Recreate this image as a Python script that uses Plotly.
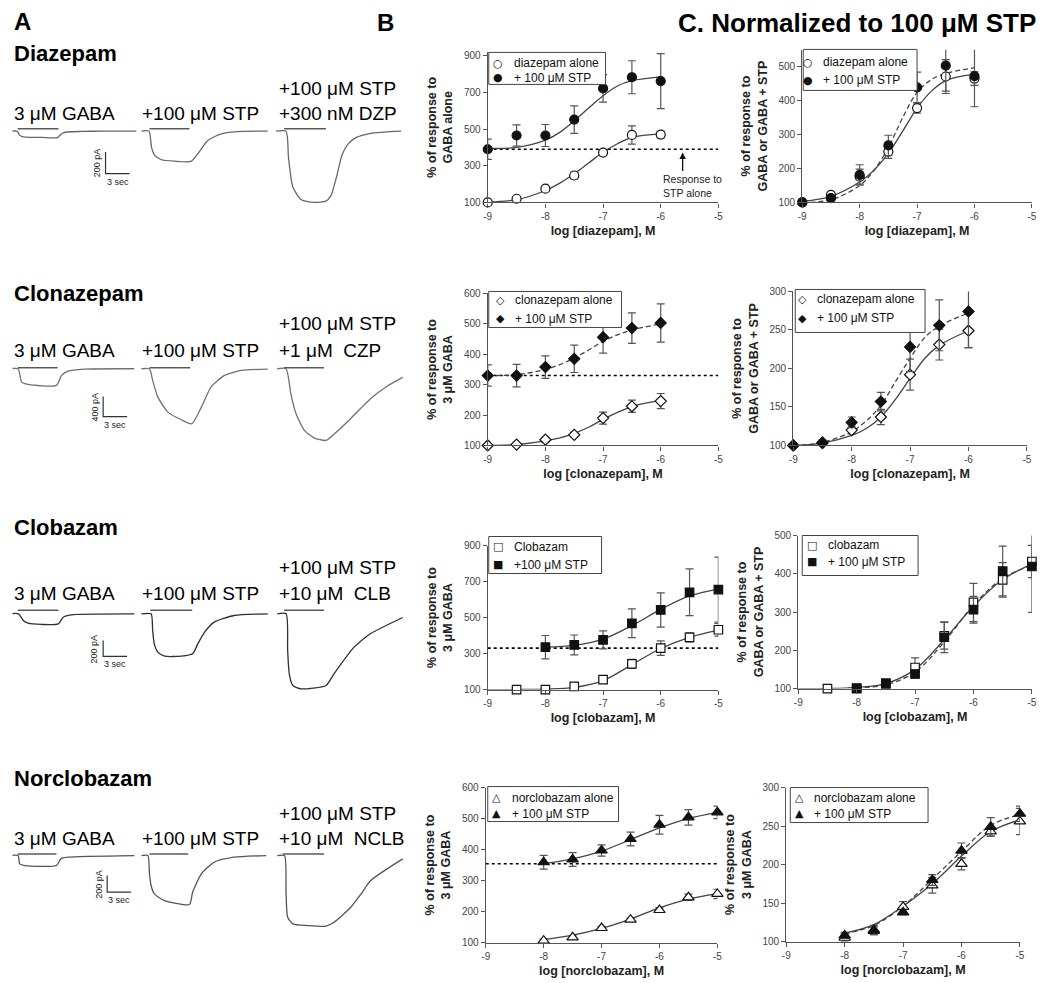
import plotly.graph_objects as go

# figure size; positions below are given in window pixels of the reference and
# mapped to the figure through a small linear correction measured on the output
W, H = 1050, 983
AX, KX = 10.5, 0.993
AY, KY = 13.6, 0.9876
FONT = "Liberation Sans, Arial, sans-serif"
SYMFONT = "DejaVu Sans, sans-serif"

# ---------------- A: current traces (time in s, current in pA) ----------------
# diazepam row
dzp_gaba_t = [0.4, 1.25, 1.45, 1.6, 1.9, 2.4, 4.4, 6.4, 6.6, 7.0, 7.6, 9.4, 11.9, 16.25]
dzp_gaba_pA = [0, 0, -10, -35, -48, -55, -58, -60, -45, -20, -8, -3, 0, 0]
dzp_stp_t = [16.9, 17.85, 18.15, 18.55, 19.4, 21.0, 23.1, 23.95, 25.2, 26.9, 29.4, 32.7]
dzp_stp_pA = [0, 0, -148, -225, -265, -278, -280, -210, -86, -25, -3, 0]
dzp_combo_t = [33.75, 35.0, 35.3, 35.85, 36.9, 38.5, 40.0, 40.6, 41.4, 42.0, 42.75, 43.75, 45.6, 49.4]
dzp_combo_pA = [0, 0, -240, -518, -635, -660, -648, -600, -400, -220, -120, -60, -20, 0]
dzp_bars = [(1.4, 6.5), (17.9, 22.9), (34.75, 40.0)]

# clonazepam row
czp_gaba_t = [0.4, 1.45, 1.9, 2.7, 6.25, 6.9, 7.7, 9.75, 16.0]
czp_gaba_pA = [0, 0, -267, -313, -333, -133, -47, -7, 0]
czp_stp_t = [16.9, 17.9, 18.3, 18.95, 20.2, 21.9, 23.2, 24.4, 25.6, 27.3, 29.4, 32.7]
czp_stp_pA = [0, 0, -233, -567, -867, -1020, -1100, -767, -367, -133, -33, -7]
czp_combo_t = [33.9, 35.0, 35.6, 36.25, 37.3, 38.5, 40.0, 41.25, 43.1, 45.6, 47.6, 49.6]
czp_combo_pA = [0, 0, -500, -900, -1233, -1380, -1433, -1273, -993, -593, -353, -173]
czp_bars = [(1.4, 6.4), (17.9, 23.0), (34.75, 39.75)]

# clobazam row
clb_gaba_t = [0.4, 1.5, 2.1, 2.7, 4.4, 6.5, 7.1, 8.1, 16.0]
clb_gaba_pA = [0, 0, -83, -117, -133, -125, -42, -12, 0]
clb_stp_t = [16.9, 18.1, 18.3, 18.5, 18.95, 19.8, 21.9, 23.3, 23.95, 24.8, 26.0, 28.5, 32.7]
clb_stp_pA = [0, 0, -208, -375, -479, -529, -529, -500, -375, -229, -104, -21, 0]
clb_combo_t = [33.9, 35.0, 35.2, 35.4, 35.85, 36.9, 40.0, 41.0, 43.5, 44.2, 45.6, 49.6]
clb_combo_pA = [0, 0, -458, -750, -896, -938, -896, -750, -417, -354, -246, -46]
clb_bars = [(1.4, 6.5), (18.0, 23.25), (34.75, 39.75)]

# norclobazam row
nclb_gaba_t = [0.4, 1.45, 1.65, 2.3, 6.25, 6.8, 7.7, 16.0]
nclb_gaba_pA = [0, 0, -100, -120, -120, -40, -20, 0]
nclb_stp_t = [16.9, 17.7, 17.9, 18.1, 18.5, 19.8, 22.9, 23.3, 24.4, 26.0, 28.5, 32.5]
nclb_stp_pA = [0, 0, -220, -361, -461, -542, -590, -442, -220, -80, -20, 0]
nclb_combo_t = [33.9, 34.8, 35.0, 35.2, 35.85, 37.7, 40.0, 41.0, 43.1, 44.4, 45.6, 49.6]
nclb_combo_pA = [0, 0, -461, -743, -823, -843, -851, -803, -623, -461, -301, -40]
nclb_bars = [(1.4, 6.25), (17.9, 22.75), (34.6, 39.75)]

# scale bars: (x start s, top pA, pA size)
dzp_scale = (12.4, -194, 200)
czp_scale = (12.1, -555, 400)
clb_scale = (12.1, -333, 200)
nclb_scale = (12.6, -241, 200)

# ---------------- B / C: concentration-response ----------------
dzp_x = [-9, -8.5, -8, -7.5, -7, -6.5, -6]
dzp_alone = [100, 120, 175, 247, 372, 468, 470]
dzp_alone_err = [0, 8, 12, 18, 12, 50, 18]
dzp_stp = [390, 465, 465, 552, 722, 783, 762]
dzp_stp_err = [55, 58, 60, 75, 75, 90, 150]
dzp_stp_only = 390
dzp_fit_x = [-9, -8.5, -8, -7.75, -7.5, -7.25, -7, -6.75, -6.5, -6]
dzp_fit_alone = [102, 115, 165, 205, 256, 315, 374, 420, 455, 474]
dzp_fit_stp = [395, 400, 440, 482, 545, 615, 682, 735, 764, 785]
dzp_norm_alone = [100, 122, 176, 250, 378, 471, 465]
dzp_norm_alone_err = [0, 8, 22, 20, 15, 50, 20]
dzp_norm_stp = [100, 113, 181, 268, 439, 503, 472]
dzp_norm_stp_err = [0, 6, 30, 30, 45, 75, 90]
dzp_nfit_alone = [103, 118, 160, 195, 245, 310, 378, 428, 459, 478]
dzp_nfit_stp = [100, 108, 150, 195, 262, 350, 424, 462, 480, 497]

czp_x = [-9, -8.5, -8, -7.5, -7, -6.5, -6]
czp_alone = [100, 103, 119, 135, 190, 229, 246]
czp_alone_err = [0, 3, 8, 8, 20, 20, 25]
czp_stp = [330, 330, 358, 385, 456, 486, 503]
czp_stp_err = [35, 37, 37, 45, 52, 50, 63]
czp_stp_only = 330
czp_fit_x = [-9, -8.5, -8, -7.75, -7.5, -7.25, -7, -6.75, -6.5, -6]
czp_fit_alone = [100, 103, 115, 125, 140, 160, 186, 209, 228, 248]
czp_fit_stp = [330, 333, 350, 366, 388, 414, 443, 464, 480, 500]
czp_norm_alone = [100, 104, 120, 137, 192, 231, 249]
czp_norm_alone_err = [0, 3, 5, 10, 20, 20, 22]
czp_norm_stp = [100, 103, 130, 157, 228, 256, 274]
czp_norm_stp_err = [0, 3, 7, 12, 32, 33, 47]
czp_nfit_alone = [100, 103, 113, 122, 137, 160, 187, 213, 230, 249]
czp_nfit_stp = [100, 104, 118, 132, 152, 183, 213, 240, 255, 272]

clb_x = [-8.5, -8, -7.5, -7, -6.5, -6, -5.5, -5]
clb_alone = [100, 100, 118, 155, 242, 330, 390, 432]
clb_alone_err = [0, 0, 5, 15, 25, 40, 25, 35]
clb_x_stp = [-8, -7.5, -7, -6.5, -6, -5.5, -5]
clb_stp = [335, 348, 376, 468, 542, 640, 655]
clb_stp_err = [65, 55, 50, 80, 95, 130, 180]
clb_stp_only = 330
clb_fit_x = [-9, -8.5, -8, -7.5, -7, -6.5, -6, -5.5, -5]
clb_fit_alone = [100, 100, 102, 112, 150, 238, 328, 390, 430]
clb_fit_stp = [335, 345, 380, 455, 545, 620, 658]
clb_norm_alone = [100, 100, 112, 155, 238, 325, 384, 432]
clb_norm_alone_err = [0, 0, 5, 25, 35, 50, 45, 42]
clb_norm_stp = [101, 114, 138, 234, 306, 407, 419]
clb_norm_stp_err = [3, 8, 10, 40, 35, 65, 120]
clb_nfit_alone = [100, 100, 103, 113, 150, 228, 315, 385, 425]
clb_nfit_stp = [102, 110, 143, 222, 318, 388, 422]

nclb_x = [-8, -7.5, -7, -6.5, -6, -5.5, -5]
nclb_alone = [106, 117, 147, 174, 205, 246, 257]
nclb_alone_err = [5, 5, 5, 5, 8, 10, 15]
nclb_stp = [359, 368, 397, 434, 480, 504, 520]
nclb_stp_err = [22, 22, 18, 22, 30, 25, 20]
nclb_stp_only = 354
nclb_fit_alone = [110, 124, 146, 176, 212, 240, 258]
nclb_fit_stp = [355, 370, 395, 432, 470, 500, 520]
nclb_norm_alone = [105, 114, 145, 173, 201, 243, 256]
nclb_norm_alone_err = [5, 5, 7, 10, 8, 6, 17]
nclb_norm_stp = [108, 115, 138, 180, 218, 249, 266]
nclb_norm_stp_err = [4, 6, 3, 7, 10, 12, 10]
nclb_nfit_alone = [111, 122, 146, 175, 211, 243, 258]
nclb_nfit_stp = [110, 121, 146, 181, 217, 251, 265]

x_ticks = [-9, -8, -7, -6, -5]


def fx(px):
    return ((px - AX) / KX) / W


def fy(py):
    return 1 - ((py - AY) / KY) / H


fig = go.Figure()
layout = {}
annots = []
shapes = []


def ax_name(kind, n):
    return kind + 'axis' + ('' if n == 1 else str(n))


def ref(kind, n):
    return kind + ('' if n == 1 else str(n))


def label(px, py, text, size, anchor='left', bold=False, font=FONT):
    annots.append(dict(x=fx(px), y=fy(py), xref='paper', yref='paper',
                       text=f'<b>{text}</b>' if bold else text, showarrow=False,
                       xanchor=anchor, yanchor='middle', font=dict(size=size, family=font, color='black')))


# ---- A column ----
a_rows = [
    # name, traces, bars, scale, baseline px, px per 100 pA, top px, bottom px, label rows,
    # combo label, bar level, trace colour
    ('Diazepam', [(dzp_gaba_t, dzp_gaba_pA), (dzp_stp_t, dzp_stp_pA), (dzp_combo_t, dzp_combo_pA)],
     dzp_bars, dzp_scale, 130.7, 10.8, 118, 215, 53, 88, 113, '+300 nM DZP', 21, '#666'),
    ('Clonazepam', [(czp_gaba_t, czp_gaba_pA), (czp_stp_t, czp_stp_pA), (czp_combo_t, czp_combo_pA)],
     czp_bars, czp_scale, 368.3, 5.0, 355, 450, 293, 323, 350, '+1 μM  CZP', 20, '#707070'),
    ('Clobazam', [(clb_gaba_t, clb_gaba_pA), (clb_stp_t, clb_stp_pA), (clb_combo_t, clb_combo_pA)],
     clb_bars, clb_scale, 613.3, 8.0, 600, 700, 527, 567, 593, '+10 μM  CLB', 46, '#2e2e2e'),
    ('Norclobazam', [(nclb_gaba_t, nclb_gaba_pA), (nclb_stp_t, nclb_stp_pA), (nclb_combo_t, nclb_combo_pA)],
     nclb_bars, nclb_scale, 855, 8.3, 842, 935, 778, 813, 838, '+10 μM  NCLB', 20, '#555'),
]

for r, (name, traces, bars, scale, b, s, top, bot, yname, yl1, yl2, combo_lbl, bar_pA, tcol) in enumerate(a_rows):
    n = 3 * r + 1
    xr, yr = ref('x', n), ref('y', n)
    # 8 px per second, x = 5 px is t = 0
    x_left = AX + 0.5
    layout[ax_name('x', n)] = dict(domain=[fx(x_left), fx(405)], range=[(x_left - 5) / 8, 50],
                                   visible=False, anchor=yr)
    layout[ax_name('y', n)] = dict(domain=[fy(bot), fy(top)],
                                   range=[-(bot - b) / s * 100, (b - top) / s * 100],
                                   visible=False, anchor=xr)
    for t, i in traces:
        fig.add_trace(go.Scatter(x=t, y=i, mode='lines', xaxis=xr, yaxis=yr, showlegend=False,
                                 line=dict(color=tcol, width=1.3, shape='spline', smoothing=0.6)))
    for b0, b1 in bars:
        fig.add_trace(go.Scatter(x=[b0, b1], y=[bar_pA, bar_pA], mode='lines', xaxis=xr, yaxis=yr,
                                 showlegend=False, line=dict(color='#5a5a5a', width=1.5)))
    t0, p0, size = scale
    fig.add_trace(go.Scatter(x=[t0, t0, t0 + 3], y=[p0, p0 - size, p0 - size], mode='lines',
                             xaxis=xr, yaxis=yr, showlegend=False,
                             line=dict(color='#333', width=1.2)))
    annots.append(dict(x=t0 - 0.15, y=p0 - size / 2, xref=xr, yref=yr, text=f'{size} pA',
                       textangle=-90, showarrow=False, xanchor='right', yanchor='middle',
                       font=dict(size=9, family=FONT, color='#222')))
    annots.append(dict(x=t0 + 1.5, y=p0 - size, xref=xr, yref=yr, text='3 sec', showarrow=False,
                       yanchor='top', yshift=-1, font=dict(size=9, family=FONT, color='#222')))
    label(10, yname, name, 22, bold=True)
    label(10, yl2, '3 μM GABA', 19)
    label(139, yl2, '+100 μM STP', 19)
    label(276, yl1, '+100 μM STP', 19)
    label(276, yl2, combo_lbl, 19)

# ---- B and C columns ----
panels = [
    dict(n=2, xpx=(487, 718), ypx=(51.7, 202), yr=(100, 920), yt=[100, 300, 500, 700, 900],
         ytitle='% of response to<br>GABA alone', xtitle='log [diazepam], M',
         box=(488, 605, 52, 84), rows=(62.7, 77.3), symx=497, txtx=511,
         sym='circle', names=('diazepam alone', '+ 100 μM STP'),
         alone=(dzp_x, dzp_alone, dzp_alone_err), stp=(dzp_x, dzp_stp, dzp_stp_err),
         fa=(dzp_fit_x, dzp_fit_alone), fs=(dzp_fit_x, dzp_fit_stp), dash='solid', hline=dzp_stp_only),
    dict(n=3, xpx=(802, 1032), ypx=(49.3, 202), yr=(100, 550), yt=[100, 200, 300, 400, 500],
         ytitle='% of response to<br>GABA or GABA + STP', xtitle='log [diazepam], M',
         box=(803, 917, 49, 90), rows=(61.7, 80), symx=808, txtx=821,
         sym='circle', names=('diazepam alone', '+ 100 μM STP'),
         alone=(dzp_x, dzp_norm_alone, dzp_norm_alone_err), stp=(dzp_x, dzp_norm_stp, dzp_norm_stp_err),
         fa=(dzp_fit_x, dzp_nfit_alone), fs=(dzp_fit_x, dzp_nfit_stp), dash='dash', hline=None),
    dict(n=5, xpx=(487, 718), ypx=(293, 445), yr=(100, 600), yt=[100, 200, 300, 400, 500, 600],
         ytitle='% of response to<br>3 μM GABA', xtitle='log [clonazepam], M',
         box=(488, 621, 291, 327), rows=(300, 318.5), symx=500, txtx=512,
         sym='diamond', names=('clonazepam alone', '+ 100 μM STP'),
         alone=(czp_x, czp_alone, czp_alone_err), stp=(czp_x, czp_stp, czp_stp_err),
         fa=(czp_fit_x, czp_fit_alone), fs=(czp_fit_x, czp_fit_stp), dash='dash', hline=czp_stp_only),
    dict(n=6, xpx=(793, 1027), ypx=(291, 445), yr=(100, 300), yt=[100, 150, 200, 250, 300],
         ytitle='% of response to<br>GABA or GABA + STP', xtitle='log [clonazepam], M',
         box=(795, 925, 289, 332), rows=(299, 318), symx=802, txtx=815,
         sym='diamond', names=('clonazepam alone', '+ 100 μM STP'),
         alone=(czp_x, czp_norm_alone, czp_norm_alone_err), stp=(czp_x, czp_norm_stp, czp_norm_stp_err),
         fa=(czp_fit_x, czp_nfit_alone), fs=(czp_fit_x, czp_nfit_stp), dash='dash', hline=None),
    dict(n=8, xpx=(487, 718), ypx=(545, 689), yr=(100, 900), yt=[100, 300, 500, 700, 900],
         ytitle='% of response to<br>3 μM GABA', xtitle='log [clobazam], M',
         box=(488, 601, 536, 573), rows=(546, 564), symx=497, txtx=511,
         sym='square', names=('Clobazam', '+100 μM STP'),
         alone=(clb_x, clb_alone, clb_alone_err), stp=(clb_x_stp, clb_stp, clb_stp_err),
         fa=(clb_fit_x, clb_fit_alone), fs=(clb_x_stp, clb_fit_stp), dash='solid', hline=clb_stp_only),
    dict(n=9, xpx=(798, 1032), ypx=(535, 688), yr=(100, 500), yt=[100, 200, 300, 400, 500],
         ytitle='% of response to<br>GABA or GABA + STP', xtitle='log [clobazam], M',
         box=(802, 918, 535, 575), rows=(544.5, 561), symx=812, txtx=826,
         sym='square', names=('clobazam', '+ 100 μM STP'),
         alone=(clb_x, clb_norm_alone, clb_norm_alone_err), stp=(clb_x_stp, clb_norm_stp, clb_norm_stp_err),
         fa=(clb_fit_x, clb_nfit_alone), fs=(clb_x_stp, clb_nfit_stp), dash='dash', hline=None),
    dict(n=11, xpx=(485, 717), ypx=(787, 942), yr=(100, 600), yt=[100, 200, 300, 400, 500, 600],
         ytitle='% of response to<br>3 μM GABA', xtitle='log [norclobazam], M',
         box=(487, 618, 786, 821), rows=(797, 813), symx=496, txtx=509,
         sym='triangle-up', names=('norclobazam alone', '+ 100 μM STP'),
         alone=(nclb_x, nclb_alone, nclb_alone_err), stp=(nclb_x, nclb_stp, nclb_stp_err),
         fa=(nclb_x, nclb_fit_alone), fs=(nclb_x, nclb_fit_stp), dash='solid', hline=nclb_stp_only),
    dict(n=12, xpx=(786, 1020), ypx=(787, 941), yr=(100, 300), yt=[100, 150, 200, 250, 300],
         ytitle='% of response to<br>3 μM GABA', xtitle='log [norclobazam], M',
         box=(790, 928, 787, 822), rows=(797, 813), symx=799, txtx=812,
         sym='triangle-up', names=('norclobazam alone', '+ 100 μM STP'),
         alone=(nclb_x, nclb_norm_alone, nclb_norm_alone_err), stp=(nclb_x, nclb_norm_stp, nclb_norm_stp_err),
         fa=(nclb_x, nclb_nfit_alone), fs=(nclb_x, nclb_nfit_stp), dash='dash', hline=None),
]

legend_glyphs = {'circle': ('○', '●'), 'diamond': ('◇', '◆'),
                 'square': ('□', '■'), 'triangle-up': ('△', '▲')}
marker_size = {'circle': 9, 'diamond': 8.5, 'square': 8.5, 'triangle-up': 10}

axis_style = dict(showline=True, linecolor='#555', linewidth=1.2, ticks='outside', ticklen=4,
                  tickcolor='#555', tickwidth=1.2, showgrid=False, zeroline=False,
                  tickfont=dict(size=10, family=FONT, color='#444'))

for p in panels:
    n = p['n']
    xr, yr = ref('x', n), ref('y', n)
    layout[ax_name('x', n)] = dict(domain=[fx(p['xpx'][0]), fx(p['xpx'][1])], range=[-9, -5],
                                   anchor=yr, tickvals=x_ticks, ticktext=[str(v) for v in x_ticks],
                                   title=dict(text='<b>' + p['xtitle'] + '</b>', standoff=5,
                                              font=dict(size=12.5, family=FONT, color='#222')),
                                   **axis_style)
    layout[ax_name('y', n)] = dict(domain=[fy(p['ypx'][1]), fy(p['ypx'][0])], range=list(p['yr']),
                                   anchor=xr, tickvals=p['yt'],
                                   title=dict(text='<b>' + p['ytitle'] + '</b>', standoff=8,
                                              font=dict(size=12.5, family=FONT, color='#222')),
                                   **axis_style)

    if p['hline'] is not None:
        fig.add_trace(go.Scatter(x=[-9, -5], y=[p['hline'], p['hline']], mode='lines', xaxis=xr, yaxis=yr,
                                 showlegend=False, line=dict(color='black', width=1.6, dash='dot')))
    fig.add_trace(go.Scatter(x=p['fa'][0], y=p['fa'][1], mode='lines', xaxis=xr, yaxis=yr, showlegend=False,
                             line=dict(color='#444', width=1.3, shape='spline')))
    fig.add_trace(go.Scatter(x=p['fs'][0], y=p['fs'][1], mode='lines', xaxis=xr, yaxis=yr, showlegend=False,
                             line=dict(color='#444', width=1.3, shape='spline',
                                       dash='5px,3px' if p['dash'] == 'dash' else 'solid')))
    msize = marker_size[p['sym']]
    ax_, ay_, ae_ = p['alone']
    fig.add_trace(go.Scatter(x=ax_, y=ay_, mode='markers', xaxis=xr, yaxis=yr, name=p['names'][0],
                             showlegend=False, cliponaxis=False,
                             marker=dict(symbol=p['sym'], size=msize, color='white',
                                         line=dict(color='#111', width=1.2)),
                             error_y=dict(type='data', array=ae_, color='#555', thickness=1.2, width=4)))
    sx_, sy_, se_ = p['stp']
    fig.add_trace(go.Scatter(x=sx_, y=sy_, mode='markers', xaxis=xr, yaxis=yr, name=p['names'][1],
                             showlegend=False, cliponaxis=False,
                             marker=dict(symbol=p['sym'], size=msize, color='#111',
                                         line=dict(color='#111', width=1.2)),
                             error_y=dict(type='data', array=se_, color='#555', thickness=1.2, width=4)))

    # boxed key, drawn as a frame with two symbol + text rows
    l, rr, t, bt = p['box']
    shapes.append(dict(type='rect', xref='paper', yref='paper', x0=fx(l), x1=fx(rr), y0=fy(bt), y1=fy(t),
                       line=dict(color='#444', width=1), fillcolor='white', layer='above'))
    for glyph, name, row_y in zip(legend_glyphs[p['sym']], p['names'], p['rows']):
        annots.append(dict(x=fx(p['symx']), y=fy(row_y), xref='paper', yref='paper', text=glyph,
                           showarrow=False, xanchor='center', yanchor='middle',
                           font=dict(size=11, family=SYMFONT, color='#111')))
        annots.append(dict(x=fx(p['txtx']), y=fy(row_y), xref='paper', yref='paper', text=name,
                           showarrow=False, xanchor='left', yanchor='middle',
                           font=dict(size=12, family=FONT, color='#111')))

# response to STP alone label + arrow (row 1, column B)
annots.append(dict(x=-6.0, y=192, xref='x2', yref='y2', text='Response to<br>STP alone', showarrow=False,
                   xanchor='left', yanchor='middle', align='left',
                   font=dict(size=10.5, family=FONT, color='#222')))
annots.append(dict(x=-5.62, y=372, xref='x2', yref='y2', text='', showarrow=True, ax=0, ay=20,
                   arrowhead=2, arrowsize=1, arrowwidth=1.3, arrowcolor='#111'))

# panel letters (kept just inside the top edge)
label(10, 21.5, 'A', 24, bold=True)
label(374, 22.5, 'B', 24, bold=True)
label(676, 22.5, 'C. Normalized to 100 μM STP', 26, bold=True)

fig.update_layout(width=W, height=H, margin=dict(l=0, r=0, t=0, b=0), paper_bgcolor='white',
                  plot_bgcolor='white', font=dict(family=FONT), showlegend=False,
                  annotations=annots, shapes=shapes, **layout)

fig.write_html("out.html")
